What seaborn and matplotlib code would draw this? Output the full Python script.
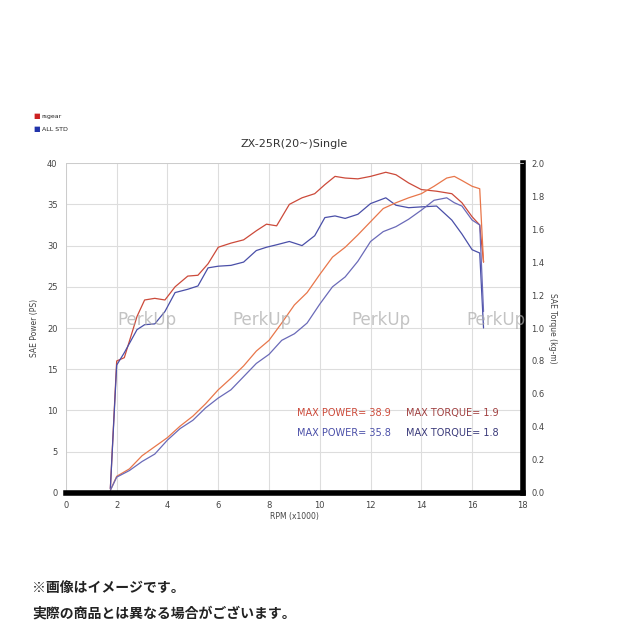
import numpy as np
import pandas as pd
import matplotlib
matplotlib.use('Agg')
import matplotlib.pyplot as plt
import seaborn as sns

# 出力データ (PS) / トルク (kg-m)
pw_rpm = [1.75, 2.0, 2.3, 2.8, 3.1, 3.5, 3.9, 4.3, 4.8, 5.2, 5.6, 6.0, 6.5, 7.0, 7.5, 7.9, 8.3, 8.8, 9.3,
          9.8, 10.2, 10.6, 11.0, 11.5, 12.0, 12.6, 13.0, 13.5, 14.0, 14.6, 15.2, 15.6, 16.0, 16.3, 16.45]
pw_rs = [0.5, 16.0, 16.4, 21.4, 23.4, 23.6, 23.4, 25.0, 26.3, 26.4, 27.8, 29.8, 30.3, 30.7, 31.8, 32.6, 32.4,
         35.0, 35.8, 36.3, 37.4, 38.4, 38.2, 38.1, 38.4, 38.9, 38.6, 37.6, 36.8, 36.6, 36.3, 35.2, 33.5, 32.5, 28.0]
pw_std = [0.5, 15.5, 17.0, 19.8, 20.4, 20.5, 22.0, 24.3, 24.7, 25.1, 27.3, 27.5, 27.6, 28.0, 29.4, 29.8, 30.1,
          30.5, 30.0, 31.2, 33.4, 33.6, 33.3, 33.8, 35.1, 35.8, 34.9, 34.6, 34.7, 34.8, 33.1, 31.4, 29.5, 29.1, 20.0]

tq_rpm = [1.75, 2.0, 2.5, 3.0, 3.5, 4.0, 4.5, 5.0, 5.5, 6.0, 6.5, 7.0, 7.5, 8.0, 8.5, 9.0, 9.5, 10.0,
          10.5, 11.0, 11.5, 12.0, 12.5, 13.0, 13.5, 14.0, 14.5, 15.0, 15.3, 15.6, 16.0, 16.3, 16.45]
tq_rs = [0.015, 0.10, 0.145, 0.225, 0.28, 0.335, 0.405, 0.465, 0.54, 0.625, 0.695, 0.77, 0.86, 0.925, 1.03,
         1.14, 1.215, 1.325, 1.43, 1.49, 1.565, 1.645, 1.725, 1.76, 1.79, 1.815, 1.86, 1.91, 1.92, 1.895, 1.86,
         1.845, 1.40]
tq_std = [0.015, 0.095, 0.135, 0.19, 0.235, 0.32, 0.39, 0.44, 0.515, 0.575, 0.625, 0.705, 0.785, 0.84, 0.925,
          0.965, 1.03, 1.145, 1.25, 1.31, 1.405, 1.525, 1.585, 1.615, 1.66, 1.715, 1.775, 1.79, 1.76, 1.74,
          1.655, 1.625, 1.10]

c_red = '#cc4a3a'
c_org = '#e8764a'
c_blue = '#4a4fa8'
c_blue2 = '#6a6ab8'

sns.set_style('white')
plt.rcParams['font.family'] = ['DejaVu Sans', 'Noto Sans CJK JP']

fig = plt.figure(figsize=(6.4, 6.4), dpi=100)
ax = fig.add_axes([0.103, 0.230, 0.714, 0.515])
ax2 = ax.twinx()

sns.lineplot(x=pw_rpm, y=pw_rs, ax=ax, color=c_red, lw=0.9)
sns.lineplot(x=pw_rpm, y=pw_std, ax=ax, color=c_blue, lw=0.9)
sns.lineplot(x=tq_rpm, y=tq_rs, ax=ax2, color=c_org, lw=0.9)
sns.lineplot(x=tq_rpm, y=tq_std, ax=ax2, color=c_blue2, lw=0.9)

ax.set_xlim(0, 18)
ax.set_ylim(0, 40)
ax2.set_ylim(0, 2)
ax.set_xticks(range(0, 19, 2))
ax.set_yticks(range(0, 41, 5))
ax2.set_yticks(np.arange(0, 2.01, 0.2))
ax2.set_yticklabels([f'{v:.1f}' for v in np.arange(0, 2.01, 0.2)])
ax.grid(True, color='#dddddd', lw=0.8)
for a in (ax, ax2):
    a.tick_params(labelsize=6, colors='#444444', length=0, pad=6)
    for s in a.spines.values():
        s.set_color('#cccccc')
        s.set_linewidth(0.6)
ax2.spines['right'].set_color('black')
ax2.spines['right'].set_linewidth(4)
ax2.spines['bottom'].set_color('black')
ax2.spines['bottom'].set_linewidth(4)

ax.set_xlabel('RPM (x1000)', fontsize=5.5, color='#444444', labelpad=1)
ax.set_ylabel('SAE Power (PS)', fontsize=5.5, color='#444444', labelpad=6)
ax2.set_ylabel('SAE Torque (kg-m)', fontsize=5.5, color='#444444', rotation=-90)
ax2.yaxis.set_label_coords(1.075, 0.5)
ax.set_title('ZX-25R(20~)Single', fontsize=8, color='#333333', pad=12)

ax.text(9.1, 9.3, 'MAX POWER= 38.9', color=c_red, fontsize=7)
ax.text(13.4, 9.3, 'MAX TORQUE= 1.9', color='#a04040', fontsize=7)
ax.text(9.1, 6.9, 'MAX POWER= 35.8', color=c_blue, fontsize=7)
ax.text(13.4, 6.9, 'MAX TORQUE= 1.8', color='#3a3a7a', fontsize=7)

# 凡例
fig.text(0.052, 0.815, '■', color='#cc2222', fontsize=5)
fig.text(0.065, 0.815, 'rsgear', color='#222222', fontsize=4.5)
fig.text(0.052, 0.795, '■', color='#2233aa', fontsize=5)
fig.text(0.065, 0.795, 'ALL STD', color='#222222', fontsize=4.5)

# 透かし
for xw in [0.23, 0.41, 0.595, 0.775]:
    fig.text(xw, 0.50, 'PerkUp', color='#aaaaaa', alpha=0.7, fontsize=12,
             ha='center', va='center')

fig.text(0.05, 0.075, '※画像はイメージです。', fontsize=10, fontweight='bold', color='#222222',
         family=['Noto Sans CJK JP'])
fig.text(0.05, 0.035, '実際の商品とは異なる場合がございます。', fontsize=10, fontweight='bold',
         color='#222222', family=['Noto Sans CJK JP'])

fig.savefig('out.png', dpi=100, facecolor='white')
